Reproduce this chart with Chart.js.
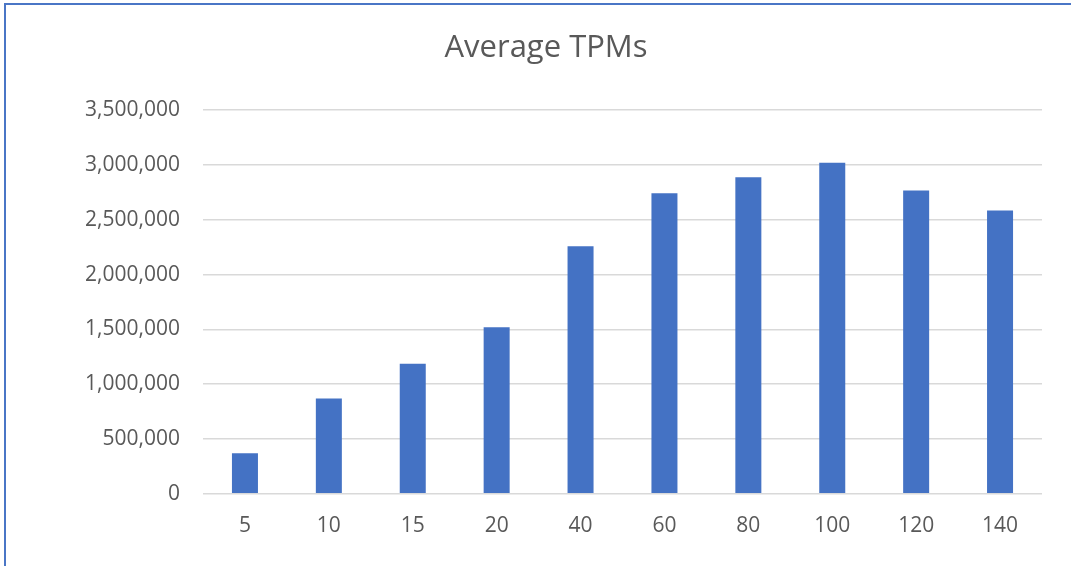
<!DOCTYPE html>
<html>
<head>
<meta charset="utf-8">
<script src="https://cdn.jsdelivr.net/npm/chart.js"></script>
<style>
  html, body { margin: 0; padding: 0; background: #fff; overflow: hidden; }
  #frame {
    position: absolute; left: 4px; top: 3px; width: 1200px; height: 700px;
    border-top: 2px solid #4a76c6; border-left: 2px solid #4a76c6;
  }
  #wrap { position: absolute; left: 0; top: 0; width: 1071px; height: 566px; }
</style>
</head>
<body>
<div id="frame"></div>
<div id="wrap"><canvas id="tpm"></canvas></div>
<script>
const categories = ['5', '10', '15', '20', '40', '60', '80', '100', '120', '140'];
const avgTpm = [370000, 870000, 1186000, 1520000, 2259000, 2743000, 2889000, 3020000, 2767000, 2585000];
const yTicks = [0, 500000, 1000000, 1500000, 2000000, 2500000, 3000000, 3500000];

const config = {
    type: 'bar',
    data: {
        labels: categories,
        datasets: [{
            label: 'Average TPMs',
            data: avgTpm,
            backgroundColor: '#4472c4',
            borderWidth: 0,
            categoryPercentage: 1,
            barPercentage: 0.31
        }]
    },
    options: {
        responsive: true,
        maintainAspectRatio: false,
        animation: false,
        layout: {
            padding: {left: 50, right: 29, top: 10, bottom: 15}
        },
        plugins: {
            legend: {display: false},
            tooltip: {enabled: false},
            title: {
                display: true,
                text: 'Average TPMs',
                color: '#595959',
                font: {family: 'Open Sans', size: 31, weight: 'normal'},
                padding: {top: 20, bottom: 43}
            }
        },
        scales: {
            x: {
                grid: {display: false},
                border: {display: false},
                ticks: {
                    color: '#595959',
                    font: {family: 'Open Sans', size: 21},
                    padding: 12
                }
            },
            y: {
                min: 0,
                max: 3500000,
                afterBuildTicks: axis => {
                    axis.ticks = yTicks.map(v => ({value: v}));
                },
                afterFit: axis => { axis.width = 153; },
                grid: {color: '#d9d9d9', lineWidth: 1.5, drawTicks: false},
                border: {display: false},
                ticks: {
                    color: '#595959',
                    font: {family: 'Open Sans', size: 21},
                    padding: 23,
                    callback: v => v.toLocaleString('en-US')
                }
            }
        }
    },
    plugins: []
};

const tpmChart = new Chart(document.getElementById('tpm'), config);
</script>
</body>
</html>
